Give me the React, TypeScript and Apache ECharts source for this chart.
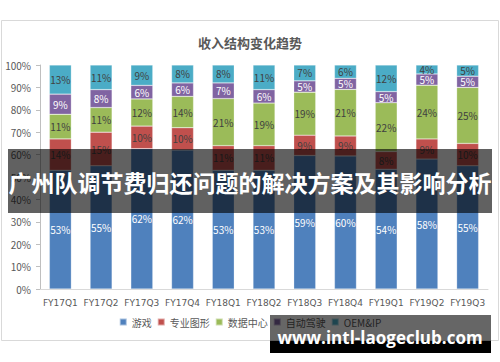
import React, { useEffect, useRef } from "react";
import * as echarts from "echarts";

const categories = ["FY17Q1", "FY17Q2", "FY17Q3", "FY17Q4", "FY18Q1", "FY18Q2", "FY18Q3", "FY18Q4", "FY19Q1", "FY19Q2", "FY19Q3"];
const gaming = [53, 55, 62, 62, 53, 53, 59, 60, 54, 58, 55];
const proViz = [14, 15, 10, 10, 11, 11, 9, 9, 8, 9, 10];
const dataCenter = [11, 11, 12, 14, 21, 19, 19, 21, 22, 24, 25];
const auto = [9, 8, 6, 6, 7, 6, 5, 5, 5, 5, 5];
const oemIp = [13, 11, 9, 8, 8, 11, 7, 6, 12, 4, 5];
const yTicks = [0, 10, 20, 30, 40, 50, 60, 70, 80, 90, 100];

const seriesDefs = [
  { name: "游戏", data: gaming, color: "#4F81BD", label: "#ffffff" },
  { name: "专业图形", data: proViz, color: "#C0504D", label: "#404040" },
  { name: "数据中心", data: dataCenter, color: "#9BBB59", label: "#404040" },
  { name: "自动驾驶", data: auto, color: "#8064A2", label: "#ffffff" },
  { name: "OEM&IP", data: oemIp, color: "#4BACC6", label: "#404040" },
];

export default function App() {
  const ref = useRef<HTMLDivElement>(null);
  useEffect(() => {
    if (!ref.current) return;
    const chart = echarts.init(ref.current, null, { renderer: "svg" });
    const totals = categories.map((_, i) => seriesDefs.reduce((s, d) => s + d.data[i], 0));
    const font = "'Noto Sans CJK SC', 'Noto Sans', sans-serif";
    chart.setOption({
      animation: false,
      backgroundColor: "#ffffff",
      textStyle: { fontFamily: font },
      title: {
        text: "收入结构变化趋势",
        left: "center",
        top: 31,
        textStyle: { fontSize: 13, fontWeight: "bold", color: "#595959", fontFamily: font },
      },
      legend: {
        bottom: 30,
        left: "center",
        itemWidth: 7,
        itemHeight: 7,
        itemGap: 5,
        icon: "rect",
        textStyle: { fontSize: 10, color: "#595959", fontFamily: font },
        data: seriesDefs.map((d) => d.name),
      },
      grid: { left: 40, right: 12, top: 65, bottom: 73 },
      xAxis: {
        type: "category",
        data: categories,
        axisLine: { lineStyle: { color: "#d9d9d9" } },
        axisTick: { show: false },
        axisLabel: { color: "#595959", fontSize: 9, margin: 9, interval: 0, fontFamily: "'DejaVu Sans', sans-serif" },
      },
      yAxis: {
        type: "value",
        min: 0,
        max: 100,
        interval: 10,
        axisLine: { show: true, lineStyle: { color: "#bfbfbf" } },
        axisTick: { show: true, lineStyle: { color: "#bfbfbf" }, length: 4 },
        splitLine: { show: false },
        axisLabel: {
          color: "#595959",
          fontSize: 10,
          margin: 9,
          formatter: (v: number) => (yTicks.includes(v) ? v + "%" : ""),
        },
      },
      series: seriesDefs.map((d) => ({
        name: d.name,
        type: "bar",
        stack: "total",
        barWidth: 22,
        itemStyle: { color: d.color, borderColor: "rgba(255,255,255,0.5)", borderWidth: 0.5 },
        label: {
          show: true,
          position: "inside",
          fontSize: 10,
          color: d.label,
          formatter: (p: any) => d.data[p.dataIndex] + "%",
        },
        data: d.data.map((v, i) => (v / totals[i]) * 100),
      })),
      graphic: [
        {
          type: "rect",
          z: -1,
          shape: { x: 1.5, y: 20.5, width: 497, height: 320 },
          style: { fill: "none", stroke: "#d9d9d9", lineWidth: 1 },
        },
        {
          type: "rect",
          z: 100,
          shape: { x: 8, y: 149, width: 484, height: 64 },
          style: { fill: "rgba(0,0,0,0.62)" },
        },
        {
          type: "text",
          z: 101,
          x: 250,
          y: 182,
          style: {
            text: "广州队调节费归还问题的解决方案及其影响分析",
            fill: "#ffffff",
            fontSize: 23,
            fontWeight: "bold",
            fontFamily: font,
            align: "center",
            verticalAlign: "middle",
          },
        },
        {
          type: "rect",
          z: 100,
          shape: { x: 270, y: 315, width: 221, height: 38 },
          style: { fill: "rgba(0,0,0,0.6)" },
        },
        {
          type: "rect",
          z: 100,
          shape: { x: 270, y: 341, width: 221, height: 12 },
          style: { fill: "#000000" },
        },
        {
          type: "text",
          z: 101,
          x: 380,
          y: 337,
          style: {
            text: "www.intl-laogeclub.com",
            fill: "#ffffff",
            fontSize: 17,
            fontWeight: "bold",
            fontFamily: "'Open Sans', 'DejaVu Sans', sans-serif",
            align: "center",
            verticalAlign: "middle",
          },
        },
      ],
    });
    return () => chart.dispose();
  }, []);
  return (
    <div
      ref={ref}
      style={{ position: "fixed", left: 0, top: 0, width: 500, height: 362, background: "#ffffff" }}
    />
  );
}
